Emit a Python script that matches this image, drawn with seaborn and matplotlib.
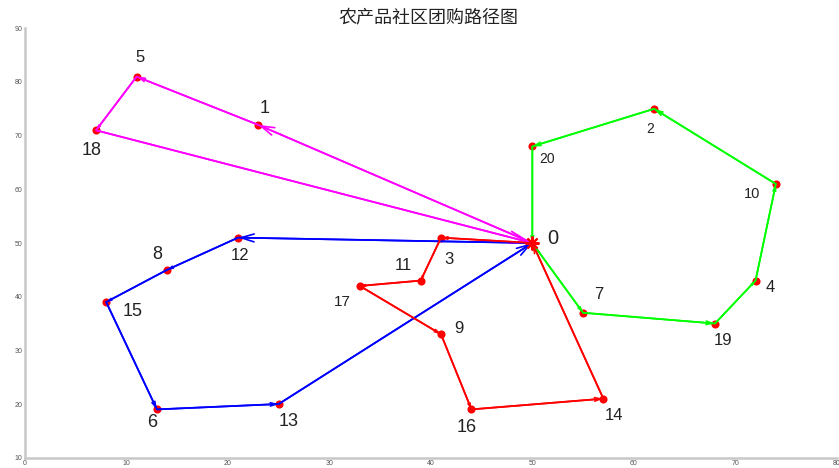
import numpy as np
import pandas as pd
import matplotlib
matplotlib.use("Agg")
import matplotlib.pyplot as plt
import seaborn as sns

# Node coordinates (node 0 is the depot)
node_id = list(range(21))
node_x = [50, 23, 62, 41, 72, 11, 13, 55, 14, 41, 74, 39, 21, 25, 57, 8, 44, 33, 7, 68, 50]
node_y = [50, 72, 75, 51, 43, 81, 19, 37, 45, 33, 61, 43, 51, 20, 21, 39, 19, 42, 71, 35, 68]

# Delivery routes, each starting and ending at the depot
route_magenta = [0, 1, 5, 18, 0]
route_blue = [0, 12, 8, 15, 6, 13, 0]
route_red = [0, 3, 11, 17, 9, 16, 14, 0]
route_green = [0, 7, 19, 4, 10, 2, 20, 0]
route_colors = ["#ff00ff", "#0000ff", "#ff0000", "#00ff00"]

# Label placement (offset from node) and font size per node
label_dx = [2.0, 0.6, -0.4, 0.8, 1.4, 0.3, -0.5, 1.5, -1.0, 1.8, -2.3, -1.7, 0.2, 1.0, 1.05, 2.6, -0.5, -1.7, -0.4, 0.8, 1.5]
label_dy = [0.9, 3.1, -3.8, -4.0, -1.2, 3.5, -2.5, 3.4, 2.9, 1.0, -1.8, 2.8, -3.4, -3.3, -3.2, -1.8, -3.3, -2.9, -3.7, -3.2, -2.3]
label_size = [14.5, 13, 10, 12, 12, 12, 13, 12, 13, 12, 10.5, 12, 12, 13, 12, 13, 13, 11, 13, 12, 10]

title_text = "农产品社区团购路径图"

sns.set_theme(style="white")
plt.rcParams["font.family"] = ["Liberation Sans", "Noto Sans CJK SC", "DejaVu Sans"]

fig = plt.figure(figsize=(8.39, 4.68), dpi=100)
ax = fig.add_axes([0.0298, 0.022, 0.9675, 0.9175])
ax.set_xlim(0, 80)
ax.set_ylim(10, 90)

nodes = pd.DataFrame({"id": node_id, "x": node_x, "y": node_y})

# Customer nodes as red dots
sns.scatterplot(data=nodes, x="x", y="y", color="#ff0000", s=34,
                edgecolor="#ff0000", linewidth=0, ax=ax, zorder=2, legend=False)
# Depot as a red asterisk
ax.plot(node_x[0], node_y[0], marker=(8, 2, 0), color="#ff0000",
        markersize=10, mew=1.5, zorder=5, linestyle="none")

fig.canvas.draw()
to_px = ax.transData.transform

for route, col in zip([route_magenta, route_blue, route_red, route_green], route_colors):
    seg = pd.DataFrame({"x": [node_x[i] for i in route],
                        "y": [node_y[i] for i in route],
                        "order": range(len(route))})
    sns.lineplot(data=seg, x="x", y="y", sort=False, estimator=None,
                 color=col, linewidth=1.3, ax=ax, zorder=3)
    for a, b in zip(route[:-1], route[1:]):
        p0 = to_px((node_x[a], node_y[a]))
        p1 = to_px((node_x[b], node_y[b]))
        length = float(np.hypot(*(p1 - p0)))
        scale = max(length * 0.08, 1.5)
        ax.annotate("", xy=(node_x[b], node_y[b]), xytext=(node_x[a], node_y[a]),
                    arrowprops=dict(arrowstyle="->,head_length=0.4,head_width=0.12",
                                    color=col, lw=1.2, shrinkA=0, shrinkB=0,
                                    mutation_scale=scale),
                    zorder=4)

for i in node_id:
    ax.text(node_x[i] + label_dx[i], node_y[i] + label_dy[i], str(i),
            fontsize=label_size[i], color="#222222", ha="center", va="center",
            zorder=6)

ax.set_xlabel("")
ax.set_ylabel("")
ax.set_xticks(range(0, 81, 10))
ax.set_yticks(range(10, 91, 10))
ax.tick_params(axis="both", direction="in", length=4, width=1.0,
               color="#888888", labelsize=5, labelcolor="#555555", pad=2)
for side in ["top", "right"]:
    ax.spines[side].set_visible(False)
for side in ["left", "bottom"]:
    ax.spines[side].set_color("#c8c8c8")
    ax.spines[side].set_linewidth(1.8)

fig.text(0.5107, 0.9637, title_text, fontsize=13, ha="center", va="center",
         color="#222222", family=["Noto Sans CJK SC", "DejaVu Sans"])

fig.savefig("out.png", dpi=100)
